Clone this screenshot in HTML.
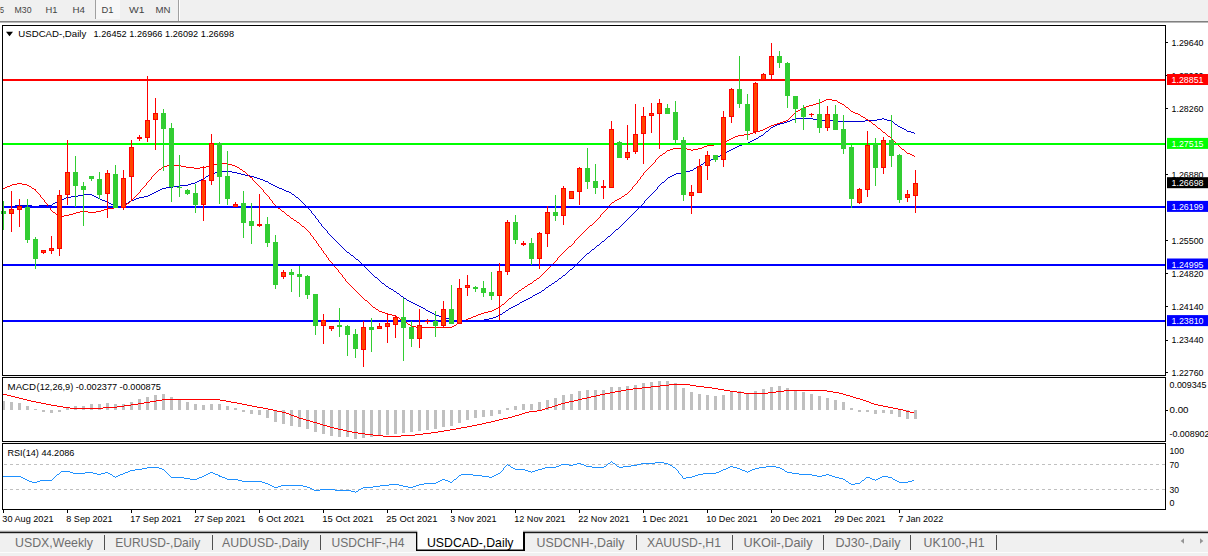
<!DOCTYPE html><html><head><meta charset="utf-8"><title>USDCAD-,Daily</title><style>html,body{margin:0;padding:0;background:#fff;overflow:hidden}svg{display:block}text{font-family:"Liberation Sans",sans-serif}</style></head><body>
<svg width="1208" height="556" viewBox="0 0 1208 556">
<rect width="1208" height="556" fill="#fff"/>
<g id="toolbar">
<rect x="0" y="0" width="1208" height="21" fill="#f0f0f0"/>
<rect x="0" y="21" width="1208" height="1" fill="#808080"/>
<rect x="0" y="22" width="1208" height="1" fill="#b8b8b8"/>
<rect x="96" y="0" width="24" height="19" fill="#f7f7f7"/>
<rect x="95" y="0" width="1" height="19" fill="#a0a0a0"/>
<rect x="178" y="0" width="1" height="21" fill="#a0a0a0"/><rect x="179" y="0" width="1" height="21" fill="#ffffff"/>
<text x="0" y="12.9" font-size="9.5" fill="#444" textLength="4" lengthAdjust="spacingAndGlyphs">5</text>
<text x="14.5" y="12.9" font-size="9.5" fill="#444" textLength="17" lengthAdjust="spacingAndGlyphs">M30</text>
<text x="45.5" y="12.9" font-size="9.5" fill="#444" textLength="12" lengthAdjust="spacingAndGlyphs">H1</text>
<text x="72.5" y="12.9" font-size="9.5" fill="#444" textLength="12.5" lengthAdjust="spacingAndGlyphs">H4</text>
<text x="101.5" y="12.9" font-size="9.5" fill="#444" textLength="12" lengthAdjust="spacingAndGlyphs">D1</text>
<text x="129" y="12.9" font-size="9.5" fill="#444" textLength="15.5" lengthAdjust="spacingAndGlyphs">W1</text>
<text x="155.5" y="12.9" font-size="9.5" fill="#444" textLength="15" lengthAdjust="spacingAndGlyphs">MN</text>
</g>
<path fill="none" stroke="#0000d0" stroke-width="1" shape-rendering="crispEdges" d="M795 118.5h18M882 118.5h2M792 119.5h3M813 119.5h6M877 119.5h5M884 119.5h3M790 120.5h2M819 120.5h17M865 120.5h12M887 120.5h4M787 121.5h3M836 121.5h29M891 121.5h2M784 122.5h3M893 122.5h1M780 123.5h4M894 123.5h1M777 124.5h3M895 124.5h2M775 125.5h2M897 125.5h1M773 126.5h2M898 126.5h2M771 127.5h2M900 127.5h2M770 128.5h1M902 128.5h2M769 129.5h1M904 129.5h2M768 130.5h1M906 130.5h1M766 131.5h2M907 131.5h4M765 132.5h1M911 132.5h3M764 133.5h1M914 133.5h1M763 134.5h1M761 135.5h2M759 136.5h2M758 137.5h1M756 138.5h2M754 139.5h2M752 140.5h2M750 141.5h2M748 142.5h2M745 143.5h3M742 144.5h3M739 145.5h3M737 146.5h2M735 147.5h2M733 148.5h2M731 149.5h2M729 150.5h2M727 151.5h2M725 152.5h2M723 153.5h2M722 154.5h1M720 155.5h2M718 156.5h2M716 157.5h2M714 158.5h2M711 159.5h3M708 160.5h3M706 161.5h2M704 162.5h2M703 163.5h1M701 164.5h2M700 165.5h1M698 166.5h2M696 167.5h2M694 168.5h2M693 169.5h1M690 170.5h3M218 171.5h14M685 171.5h5M215 172.5h3M232 172.5h5M681 172.5h4M212 173.5h3M237 173.5h4M676 173.5h5M210 174.5h2M241 174.5h4M674 174.5h2M208 175.5h2M245 175.5h5M672 175.5h2M206 176.5h2M250 176.5h4M670 176.5h2M205 177.5h1M254 177.5h3M668 177.5h2M203 178.5h2M257 178.5h3M667 178.5h1M201 179.5h2M260 179.5h3M666 179.5h1M199 180.5h2M263 180.5h2M665 180.5h1M197 181.5h2M265 181.5h3M664 181.5h1M195 182.5h2M268 182.5h1M662 182.5h2M191 183.5h4M269 183.5h2M661 183.5h1M188 184.5h3M271 184.5h2M660 184.5h1M180 185.5h8M273 185.5h2M659 185.5h1M173 186.5h7M275 186.5h2M658 186.5h1M166 187.5h7M277 187.5h2M657 187.5h1M162 188.5h4M279 188.5h3M657 188.5h1M160 189.5h2M282 189.5h2M656 189.5h1M158 190.5h2M284 190.5h2M655 190.5h1M156 191.5h2M286 191.5h3M654 191.5h1M154 192.5h2M289 192.5h2M653 192.5h1M152 193.5h2M291 193.5h1M652 193.5h1M83 194.5h9M150 194.5h2M292 194.5h2M651 194.5h1M78 195.5h5M92 195.5h2M148 195.5h2M294 195.5h1M650 195.5h1M71 196.5h7M94 196.5h2M144 196.5h4M295 196.5h1M649 196.5h1M66 197.5h5M96 197.5h2M139 197.5h5M296 197.5h2M648 197.5h1M64 198.5h2M98 198.5h2M136 198.5h3M298 198.5h1M647 198.5h1M61 199.5h3M100 199.5h2M134 199.5h2M299 199.5h1M646 199.5h1M59 200.5h2M102 200.5h3M131 200.5h3M300 200.5h1M645 200.5h1M57 201.5h2M105 201.5h2M129 201.5h2M301 201.5h1M644 201.5h1M55 202.5h2M107 202.5h2M128 202.5h1M302 202.5h1M644 202.5h1M53 203.5h2M109 203.5h2M126 203.5h2M303 203.5h1M643 203.5h1M52 204.5h1M111 204.5h2M125 204.5h1M304 204.5h1M642 204.5h1M15 205.5h17M39 205.5h13M113 205.5h2M121 205.5h4M305 205.5h1M641 205.5h1M3 206.5h12M32 206.5h7M115 206.5h6M306 206.5h1M640 206.5h1M307 207.5h1M639 207.5h1M308 208.5h1M638 208.5h1M309 209.5h1M637 209.5h1M310 210.5h1M636 210.5h1M311 211.5h1M635 211.5h1M311 212.5h1M634 212.5h1M312 213.5h1M633 213.5h1M313 214.5h1M632 214.5h1M314 215.5h1M631 215.5h1M315 216.5h1M630 216.5h1M315 217.5h1M629 217.5h1M316 218.5h1M628 218.5h1M317 219.5h1M627 219.5h1M318 220.5h1M626 220.5h1M318 221.5h1M625 221.5h1M319 222.5h1M624 222.5h1M320 223.5h1M623 223.5h1M321 224.5h1M622 224.5h1M321 225.5h1M621 225.5h1M322 226.5h1M620 226.5h1M323 227.5h1M619 227.5h1M324 228.5h1M618 228.5h1M325 229.5h1M616 229.5h2M326 230.5h1M615 230.5h1M327 231.5h1M614 231.5h1M327 232.5h1M613 232.5h1M328 233.5h1M612 233.5h1M329 234.5h1M611 234.5h1M330 235.5h1M610 235.5h1M331 236.5h1M608 236.5h2M332 237.5h1M607 237.5h1M333 238.5h1M606 238.5h1M334 239.5h1M605 239.5h1M335 240.5h1M604 240.5h1M336 241.5h1M602 241.5h2M337 242.5h1M601 242.5h1M338 243.5h1M600 243.5h1M339 244.5h1M599 244.5h1M340 245.5h1M597 245.5h2M341 246.5h1M596 246.5h1M342 247.5h1M595 247.5h1M343 248.5h1M594 248.5h1M344 249.5h1M592 249.5h2M345 250.5h1M591 250.5h1M346 251.5h1M590 251.5h1M347 252.5h2M589 252.5h1M349 253.5h1M587 253.5h2M350 254.5h1M586 254.5h1M351 255.5h2M585 255.5h1M353 256.5h1M584 256.5h1M354 257.5h1M583 257.5h1M355 258.5h1M582 258.5h1M356 259.5h2M581 259.5h1M358 260.5h1M580 260.5h1M359 261.5h1M579 261.5h1M360 262.5h1M578 262.5h1M361 263.5h1M577 263.5h1M362 264.5h1M576 264.5h1M363 265.5h1M575 265.5h1M364 266.5h1M574 266.5h1M365 267.5h1M573 267.5h1M366 268.5h1M572 268.5h1M367 269.5h1M570 269.5h2M368 270.5h1M569 270.5h1M369 271.5h1M568 271.5h1M370 272.5h1M567 272.5h1M371 273.5h1M566 273.5h1M372 274.5h1M565 274.5h1M373 275.5h1M563 275.5h2M374 276.5h1M562 276.5h1M375 277.5h2M561 277.5h1M377 278.5h1M559 278.5h2M378 279.5h1M558 279.5h1M379 280.5h1M557 280.5h1M380 281.5h1M555 281.5h2M381 282.5h1M554 282.5h1M382 283.5h2M552 283.5h2M384 284.5h1M551 284.5h1M385 285.5h1M549 285.5h2M386 286.5h2M548 286.5h1M388 287.5h1M546 287.5h2M389 288.5h2M545 288.5h1M391 289.5h2M544 289.5h1M393 290.5h1M542 290.5h2M394 291.5h2M541 291.5h1M396 292.5h1M539 292.5h2M397 293.5h2M537 293.5h2M399 294.5h1M535 294.5h2M400 295.5h1M533 295.5h2M401 296.5h2M532 296.5h1M403 297.5h1M530 297.5h2M404 298.5h2M528 298.5h2M406 299.5h1M526 299.5h2M407 300.5h2M524 300.5h2M409 301.5h2M522 301.5h2M411 302.5h2M520 302.5h2M413 303.5h2M519 303.5h1M415 304.5h2M517 304.5h2M417 305.5h2M515 305.5h2M419 306.5h2M513 306.5h2M421 307.5h2M511 307.5h2M423 308.5h2M509 308.5h2M425 309.5h1M508 309.5h1M426 310.5h2M506 310.5h2M428 311.5h2M505 311.5h1M430 312.5h2M503 312.5h2M432 313.5h2M502 313.5h1M434 314.5h2M500 314.5h2M436 315.5h3M498 315.5h2M439 316.5h3M496 316.5h2M442 317.5h3M493 317.5h3M445 318.5h4M489 318.5h4M449 319.5h5M484 319.5h5M454 320.5h30"/>
<path fill="none" stroke="#ff0000" stroke-width="1" shape-rendering="crispEdges" d="M826 99.5h6M824 100.5h2M832 100.5h5M822 101.5h2M837 101.5h1M820 102.5h2M838 102.5h2M816 103.5h4M840 103.5h2M813 104.5h3M842 104.5h2M809 105.5h4M844 105.5h1M806 106.5h3M845 106.5h1M803 107.5h3M846 107.5h2M801 108.5h2M848 108.5h1M800 109.5h1M849 109.5h1M798 110.5h2M850 110.5h1M796 111.5h2M851 111.5h2M795 112.5h1M853 112.5h2M794 113.5h1M855 113.5h3M793 114.5h1M858 114.5h2M792 115.5h1M860 115.5h1M791 116.5h1M861 116.5h2M790 117.5h1M863 117.5h2M789 118.5h1M865 118.5h1M788 119.5h1M866 119.5h2M786 120.5h2M868 120.5h1M783 121.5h3M869 121.5h2M780 122.5h3M871 122.5h1M777 123.5h3M872 123.5h1M774 124.5h3M873 124.5h2M771 125.5h3M875 125.5h1M769 126.5h2M876 126.5h1M767 127.5h2M877 127.5h1M765 128.5h2M878 128.5h2M763 129.5h2M880 129.5h1M760 130.5h3M881 130.5h1M756 131.5h4M882 131.5h1M753 132.5h3M883 132.5h2M750 133.5h3M885 133.5h1M744 134.5h6M886 134.5h1M738 135.5h6M887 135.5h1M735 136.5h3M888 136.5h2M733 137.5h2M890 137.5h1M731 138.5h2M891 138.5h1M729 139.5h2M892 139.5h1M727 140.5h2M893 140.5h1M726 141.5h1M894 141.5h1M724 142.5h2M895 142.5h1M719 143.5h5M896 143.5h1M714 144.5h5M897 144.5h1M707 145.5h7M898 145.5h1M704 146.5h3M899 146.5h1M702 147.5h2M900 147.5h1M673 148.5h14M698 148.5h4M901 148.5h1M670 149.5h3M687 149.5h4M693 149.5h5M902 149.5h2M667 150.5h3M691 150.5h2M904 150.5h1M666 151.5h1M905 151.5h1M665 152.5h1M906 152.5h1M663 153.5h2M907 153.5h3M662 154.5h1M910 154.5h2M660 155.5h2M912 155.5h2M659 156.5h1M914 156.5h1M658 157.5h1M657 158.5h1M656 159.5h1M655 160.5h1M655 161.5h1M654 162.5h1M219 163.5h9M653 163.5h1M213 164.5h6M228 164.5h4M652 164.5h1M167 165.5h14M209 165.5h4M232 165.5h3M651 165.5h1M163 166.5h4M181 166.5h5M206 166.5h3M235 166.5h2M650 166.5h1M162 167.5h1M186 167.5h8M200 167.5h6M237 167.5h2M649 167.5h1M161 168.5h1M194 168.5h6M239 168.5h1M648 168.5h1M159 169.5h2M240 169.5h2M647 169.5h1M158 170.5h1M242 170.5h1M646 170.5h1M157 171.5h1M243 171.5h2M645 171.5h1M156 172.5h1M245 172.5h1M644 172.5h1M155 173.5h1M246 173.5h1M643 173.5h1M154 174.5h1M247 174.5h1M643 174.5h1M153 175.5h1M248 175.5h1M642 175.5h1M152 176.5h1M249 176.5h1M641 176.5h1M151 177.5h1M250 177.5h2M640 177.5h1M151 178.5h1M252 178.5h1M640 178.5h1M150 179.5h1M252 179.5h1M639 179.5h1M149 180.5h1M253 180.5h1M638 180.5h1M148 181.5h1M254 181.5h1M637 181.5h1M147 182.5h1M255 182.5h1M637 182.5h1M17 183.5h5M146 183.5h1M256 183.5h1M636 183.5h1M12 184.5h5M22 184.5h5M146 184.5h1M257 184.5h1M635 184.5h1M10 185.5h2M27 185.5h2M145 185.5h1M258 185.5h1M634 185.5h1M7 186.5h3M29 186.5h2M144 186.5h1M259 186.5h1M633 186.5h1M5 187.5h2M31 187.5h1M143 187.5h1M260 187.5h1M632 187.5h1M3 188.5h2M32 188.5h2M142 188.5h1M261 188.5h1M632 188.5h1M34 189.5h2M141 189.5h1M262 189.5h1M631 189.5h1M35 190.5h1M140 190.5h1M263 190.5h1M630 190.5h1M36 191.5h1M140 191.5h1M263 191.5h1M629 191.5h1M37 192.5h1M139 192.5h1M264 192.5h1M628 192.5h1M38 193.5h1M138 193.5h1M265 193.5h1M627 193.5h1M39 194.5h1M137 194.5h1M266 194.5h1M625 194.5h2M40 195.5h1M136 195.5h1M267 195.5h1M624 195.5h1M40 196.5h1M135 196.5h1M268 196.5h1M622 196.5h2M41 197.5h1M134 197.5h1M269 197.5h1M621 197.5h1M42 198.5h1M133 198.5h1M269 198.5h1M619 198.5h2M43 199.5h1M132 199.5h1M270 199.5h1M617 199.5h2M44 200.5h1M131 200.5h1M271 200.5h1M615 200.5h2M44 201.5h1M130 201.5h1M272 201.5h1M614 201.5h1M45 202.5h1M129 202.5h1M272 202.5h1M612 202.5h2M46 203.5h1M127 203.5h2M273 203.5h1M611 203.5h1M47 204.5h1M126 204.5h1M274 204.5h1M610 204.5h1M47 205.5h1M125 205.5h1M275 205.5h1M609 205.5h1M48 206.5h1M124 206.5h1M275 206.5h2M608 206.5h1M49 207.5h1M114 207.5h10M277 207.5h1M607 207.5h1M50 208.5h1M107 208.5h7M278 208.5h2M607 208.5h1M50 209.5h1M104 209.5h3M280 209.5h1M606 209.5h1M51 210.5h1M101 210.5h3M281 210.5h1M605 210.5h1M52 211.5h1M80 211.5h8M96 211.5h5M282 211.5h2M604 211.5h1M53 212.5h2M76 212.5h4M88 212.5h8M284 212.5h1M603 212.5h1M55 213.5h1M73 213.5h3M285 213.5h1M602 213.5h1M56 214.5h1M69 214.5h4M286 214.5h1M601 214.5h1M57 215.5h1M64 215.5h5M287 215.5h2M600 215.5h1M58 216.5h6M289 216.5h1M600 216.5h1M290 217.5h1M599 217.5h1M291 218.5h2M598 218.5h1M293 219.5h1M597 219.5h1M294 220.5h2M596 220.5h1M296 221.5h1M595 221.5h1M297 222.5h2M594 222.5h1M299 223.5h1M593 223.5h1M300 224.5h1M592 224.5h1M301 225.5h1M590 225.5h2M302 226.5h2M589 226.5h1M304 227.5h1M588 227.5h1M305 228.5h1M587 228.5h1M306 229.5h1M586 229.5h1M307 230.5h1M585 230.5h1M308 231.5h1M584 231.5h1M309 232.5h1M583 232.5h1M310 233.5h1M582 233.5h1M310 234.5h1M581 234.5h1M311 235.5h1M580 235.5h1M312 236.5h1M579 236.5h1M313 237.5h1M578 237.5h1M313 238.5h1M577 238.5h1M314 239.5h1M576 239.5h1M315 240.5h1M575 240.5h1M316 241.5h1M574 241.5h1M316 242.5h1M574 242.5h1M317 243.5h1M573 243.5h1M318 244.5h1M572 244.5h1M318 245.5h1M571 245.5h1M319 246.5h1M569 246.5h2M320 247.5h1M568 247.5h1M321 248.5h1M567 248.5h1M321 249.5h1M566 249.5h1M322 250.5h1M565 250.5h1M323 251.5h1M564 251.5h1M323 252.5h1M563 252.5h1M324 253.5h1M562 253.5h1M325 254.5h1M561 254.5h1M326 255.5h1M560 255.5h1M326 256.5h1M559 256.5h1M327 257.5h1M558 257.5h1M328 258.5h1M557 258.5h1M328 259.5h1M557 259.5h1M329 260.5h1M556 260.5h1M330 261.5h1M555 261.5h1M331 262.5h1M554 262.5h1M332 263.5h1M553 263.5h1M332 264.5h1M552 264.5h1M333 265.5h1M551 265.5h1M334 266.5h1M550 266.5h1M335 267.5h1M549 267.5h1M336 268.5h1M548 268.5h1M337 269.5h1M547 269.5h1M338 270.5h1M546 270.5h1M338 271.5h1M545 271.5h1M339 272.5h1M544 272.5h1M340 273.5h1M543 273.5h1M341 274.5h1M542 274.5h1M342 275.5h1M541 275.5h1M342 276.5h1M540 276.5h1M343 277.5h1M539 277.5h1M344 278.5h1M537 278.5h2M345 279.5h1M536 279.5h1M345 280.5h1M534 280.5h2M346 281.5h1M533 281.5h1M347 282.5h1M532 282.5h1M348 283.5h1M530 283.5h2M349 284.5h1M528 284.5h2M350 285.5h1M527 285.5h1M351 286.5h1M525 286.5h2M352 287.5h1M524 287.5h1M353 288.5h1M522 288.5h2M354 289.5h1M521 289.5h1M355 290.5h1M519 290.5h2M356 291.5h1M518 291.5h1M357 292.5h1M517 292.5h1M358 293.5h1M515 293.5h2M359 294.5h1M514 294.5h1M360 295.5h1M513 295.5h1M361 296.5h1M512 296.5h1M362 297.5h1M511 297.5h1M363 298.5h1M509 298.5h2M364 299.5h1M508 299.5h1M365 300.5h2M507 300.5h1M367 301.5h1M506 301.5h1M368 302.5h1M505 302.5h1M369 303.5h1M504 303.5h1M370 304.5h1M502 304.5h2M371 305.5h1M501 305.5h1M372 306.5h1M500 306.5h1M373 307.5h2M498 307.5h2M375 308.5h1M496 308.5h2M376 309.5h2M494 309.5h2M378 310.5h1M492 310.5h2M379 311.5h3M488 311.5h4M382 312.5h3M484 312.5h4M385 313.5h3M481 313.5h3M388 314.5h4M478 314.5h3M392 315.5h3M476 315.5h2M395 316.5h2M473 316.5h3M397 317.5h2M471 317.5h2M399 318.5h1M468 318.5h3M400 319.5h2M466 319.5h2M402 320.5h2M464 320.5h2M404 321.5h1M462 321.5h2M405 322.5h2M459 322.5h3M407 323.5h1M457 323.5h2M408 324.5h2M456 324.5h1M410 325.5h1M454 325.5h2M411 326.5h5M452 326.5h2M416 327.5h36"/>
<g id="hlines" shape-rendering="crispEdges">
<rect x="3" y="79" width="1162" height="2" fill="#ff0000"/>
<rect x="3" y="143" width="1162" height="2" fill="#00ff00"/>
<rect x="3" y="206" width="1162" height="2" fill="#0000ff"/>
<rect x="3" y="264" width="1162" height="2" fill="#0000ff"/>
<rect x="3" y="320" width="1162" height="2" fill="#0000ff"/>
</g>
<g id="candles" shape-rendering="crispEdges">
<rect x="3" y="201" width="1" height="29" fill="#32cd32"/>
<rect x="1" y="211" width="5" height="3" fill="#32cd32"/>
<rect x="2" y="212" width="3" height="1" fill="#32cd32"/>
<rect x="11" y="191" width="1" height="41" fill="#ff0000"/>
<rect x="9" y="209" width="5" height="5" fill="#ff0000"/>
<rect x="10" y="210" width="3" height="3" fill="#ff4500"/>
<rect x="19" y="199" width="1" height="28" fill="#ff0000"/>
<rect x="17" y="206" width="5" height="4" fill="#ff0000"/>
<rect x="18" y="207" width="3" height="2" fill="#ff4500"/>
<rect x="27" y="199" width="1" height="44" fill="#32cd32"/>
<rect x="25" y="207" width="5" height="33" fill="#32cd32"/>
<rect x="26" y="208" width="3" height="31" fill="#32cd32"/>
<rect x="35" y="237" width="1" height="32" fill="#32cd32"/>
<rect x="33" y="239" width="5" height="20" fill="#32cd32"/>
<rect x="34" y="240" width="3" height="18" fill="#32cd32"/>
<rect x="43" y="250" width="1" height="4" fill="#ff0000"/>
<rect x="41" y="250" width="5" height="3" fill="#ff0000"/>
<rect x="42" y="251" width="3" height="1" fill="#ff4500"/>
<rect x="51" y="236" width="1" height="18" fill="#ff0000"/>
<rect x="49" y="248" width="5" height="3" fill="#ff0000"/>
<rect x="50" y="249" width="3" height="1" fill="#ff4500"/>
<rect x="59" y="190" width="1" height="66" fill="#ff0000"/>
<rect x="57" y="195" width="5" height="54" fill="#ff0000"/>
<rect x="58" y="196" width="3" height="52" fill="#ff4500"/>
<rect x="67" y="140" width="1" height="65" fill="#ff0000"/>
<rect x="65" y="172" width="5" height="23" fill="#ff0000"/>
<rect x="66" y="173" width="3" height="21" fill="#ff4500"/>
<rect x="75" y="156" width="1" height="51" fill="#32cd32"/>
<rect x="73" y="172" width="5" height="14" fill="#32cd32"/>
<rect x="74" y="173" width="3" height="12" fill="#32cd32"/>
<rect x="83" y="182" width="1" height="44" fill="#32cd32"/>
<rect x="81" y="186" width="5" height="4" fill="#32cd32"/>
<rect x="82" y="187" width="3" height="2" fill="#32cd32"/>
<rect x="91" y="176" width="1" height="5" fill="#32cd32"/>
<rect x="89" y="176" width="5" height="3" fill="#32cd32"/>
<rect x="90" y="177" width="3" height="1" fill="#32cd32"/>
<rect x="99" y="172" width="1" height="27" fill="#32cd32"/>
<rect x="97" y="179" width="5" height="16" fill="#32cd32"/>
<rect x="98" y="180" width="3" height="14" fill="#32cd32"/>
<rect x="107" y="170" width="1" height="48" fill="#ff0000"/>
<rect x="105" y="173" width="5" height="21" fill="#ff0000"/>
<rect x="106" y="174" width="3" height="19" fill="#ff4500"/>
<rect x="115" y="165" width="1" height="43" fill="#32cd32"/>
<rect x="113" y="174" width="5" height="34" fill="#32cd32"/>
<rect x="114" y="175" width="3" height="32" fill="#32cd32"/>
<rect x="123" y="170" width="1" height="40" fill="#ff0000"/>
<rect x="121" y="178" width="5" height="30" fill="#ff0000"/>
<rect x="122" y="179" width="3" height="28" fill="#ff4500"/>
<rect x="131" y="140" width="1" height="61" fill="#ff0000"/>
<rect x="129" y="147" width="5" height="30" fill="#ff0000"/>
<rect x="130" y="148" width="3" height="28" fill="#ff4500"/>
<rect x="139" y="135" width="1" height="6" fill="#ff0000"/>
<rect x="137" y="137" width="5" height="2" fill="#ff0000"/>
<rect x="147" y="76" width="1" height="66" fill="#ff0000"/>
<rect x="145" y="120" width="5" height="18" fill="#ff0000"/>
<rect x="146" y="121" width="3" height="16" fill="#ff4500"/>
<rect x="155" y="98" width="1" height="52" fill="#ff0000"/>
<rect x="153" y="113" width="5" height="7" fill="#ff0000"/>
<rect x="154" y="114" width="3" height="5" fill="#ff4500"/>
<rect x="163" y="109" width="1" height="62" fill="#32cd32"/>
<rect x="161" y="113" width="5" height="16" fill="#32cd32"/>
<rect x="162" y="114" width="3" height="14" fill="#32cd32"/>
<rect x="171" y="123" width="1" height="79" fill="#32cd32"/>
<rect x="169" y="128" width="5" height="59" fill="#32cd32"/>
<rect x="170" y="129" width="3" height="57" fill="#32cd32"/>
<rect x="179" y="155" width="1" height="42" fill="#32cd32"/>
<rect x="177" y="187" width="5" height="1" fill="#32cd32"/>
<rect x="187" y="189" width="1" height="6" fill="#32cd32"/>
<rect x="185" y="190" width="5" height="4" fill="#32cd32"/>
<rect x="186" y="191" width="3" height="2" fill="#32cd32"/>
<rect x="195" y="184" width="1" height="29" fill="#32cd32"/>
<rect x="193" y="193" width="5" height="12" fill="#32cd32"/>
<rect x="194" y="194" width="3" height="10" fill="#32cd32"/>
<rect x="203" y="166" width="1" height="55" fill="#ff0000"/>
<rect x="201" y="180" width="5" height="25" fill="#ff0000"/>
<rect x="202" y="181" width="3" height="23" fill="#ff4500"/>
<rect x="211" y="134" width="1" height="51" fill="#ff0000"/>
<rect x="209" y="143" width="5" height="38" fill="#ff0000"/>
<rect x="210" y="144" width="3" height="36" fill="#ff4500"/>
<rect x="219" y="142" width="1" height="62" fill="#32cd32"/>
<rect x="217" y="143" width="5" height="34" fill="#32cd32"/>
<rect x="218" y="144" width="3" height="32" fill="#32cd32"/>
<rect x="227" y="151" width="1" height="54" fill="#32cd32"/>
<rect x="225" y="176" width="5" height="23" fill="#32cd32"/>
<rect x="226" y="177" width="3" height="21" fill="#32cd32"/>
<rect x="235" y="202" width="1" height="5" fill="#ff0000"/>
<rect x="233" y="204" width="5" height="3" fill="#ff0000"/>
<rect x="234" y="205" width="3" height="1" fill="#ff4500"/>
<rect x="243" y="191" width="1" height="47" fill="#32cd32"/>
<rect x="241" y="203" width="5" height="20" fill="#32cd32"/>
<rect x="242" y="204" width="3" height="18" fill="#32cd32"/>
<rect x="251" y="203" width="1" height="41" fill="#32cd32"/>
<rect x="249" y="221" width="5" height="5" fill="#32cd32"/>
<rect x="250" y="222" width="3" height="3" fill="#32cd32"/>
<rect x="259" y="194" width="1" height="33" fill="#ff0000"/>
<rect x="257" y="224" width="5" height="2" fill="#ff0000"/>
<rect x="267" y="217" width="1" height="30" fill="#32cd32"/>
<rect x="265" y="224" width="5" height="19" fill="#32cd32"/>
<rect x="266" y="225" width="3" height="17" fill="#32cd32"/>
<rect x="275" y="235" width="1" height="54" fill="#32cd32"/>
<rect x="273" y="242" width="5" height="43" fill="#32cd32"/>
<rect x="274" y="243" width="3" height="41" fill="#32cd32"/>
<rect x="283" y="270" width="1" height="9" fill="#ff0000"/>
<rect x="281" y="272" width="5" height="5" fill="#ff0000"/>
<rect x="282" y="273" width="3" height="3" fill="#ff4500"/>
<rect x="291" y="269" width="1" height="23" fill="#32cd32"/>
<rect x="289" y="272" width="5" height="3" fill="#32cd32"/>
<rect x="290" y="273" width="3" height="1" fill="#32cd32"/>
<rect x="299" y="266" width="1" height="31" fill="#32cd32"/>
<rect x="297" y="274" width="5" height="3" fill="#32cd32"/>
<rect x="298" y="275" width="3" height="1" fill="#32cd32"/>
<rect x="307" y="275" width="1" height="24" fill="#32cd32"/>
<rect x="305" y="276" width="5" height="19" fill="#32cd32"/>
<rect x="306" y="277" width="3" height="17" fill="#32cd32"/>
<rect x="315" y="294" width="1" height="41" fill="#32cd32"/>
<rect x="313" y="294" width="5" height="32" fill="#32cd32"/>
<rect x="314" y="295" width="3" height="30" fill="#32cd32"/>
<rect x="323" y="314" width="1" height="30" fill="#ff0000"/>
<rect x="321" y="320" width="5" height="6" fill="#ff0000"/>
<rect x="322" y="321" width="3" height="4" fill="#ff4500"/>
<rect x="331" y="326" width="1" height="5" fill="#ff0000"/>
<rect x="329" y="326" width="5" height="3" fill="#ff0000"/>
<rect x="330" y="327" width="3" height="1" fill="#ff4500"/>
<rect x="339" y="308" width="1" height="29" fill="#32cd32"/>
<rect x="337" y="325" width="5" height="2" fill="#32cd32"/>
<rect x="347" y="325" width="1" height="31" fill="#32cd32"/>
<rect x="345" y="326" width="5" height="9" fill="#32cd32"/>
<rect x="346" y="327" width="3" height="7" fill="#32cd32"/>
<rect x="355" y="329" width="1" height="29" fill="#32cd32"/>
<rect x="353" y="334" width="5" height="15" fill="#32cd32"/>
<rect x="354" y="335" width="3" height="13" fill="#32cd32"/>
<rect x="363" y="321" width="1" height="46" fill="#ff0000"/>
<rect x="361" y="327" width="5" height="23" fill="#ff0000"/>
<rect x="362" y="328" width="3" height="21" fill="#ff4500"/>
<rect x="371" y="318" width="1" height="34" fill="#32cd32"/>
<rect x="369" y="327" width="5" height="3" fill="#32cd32"/>
<rect x="370" y="328" width="3" height="1" fill="#32cd32"/>
<rect x="379" y="323" width="1" height="6" fill="#ff0000"/>
<rect x="377" y="326" width="5" height="3" fill="#ff0000"/>
<rect x="378" y="327" width="3" height="1" fill="#ff4500"/>
<rect x="387" y="313" width="1" height="30" fill="#ff0000"/>
<rect x="385" y="323" width="5" height="4" fill="#ff0000"/>
<rect x="386" y="324" width="3" height="2" fill="#ff4500"/>
<rect x="395" y="315" width="1" height="23" fill="#ff0000"/>
<rect x="393" y="317" width="5" height="8" fill="#ff0000"/>
<rect x="394" y="318" width="3" height="6" fill="#ff4500"/>
<rect x="403" y="298" width="1" height="63" fill="#32cd32"/>
<rect x="401" y="317" width="5" height="11" fill="#32cd32"/>
<rect x="402" y="318" width="3" height="9" fill="#32cd32"/>
<rect x="411" y="321" width="1" height="26" fill="#32cd32"/>
<rect x="409" y="327" width="5" height="12" fill="#32cd32"/>
<rect x="410" y="328" width="3" height="10" fill="#32cd32"/>
<rect x="419" y="309" width="1" height="39" fill="#ff0000"/>
<rect x="417" y="325" width="5" height="14" fill="#ff0000"/>
<rect x="418" y="326" width="3" height="12" fill="#ff4500"/>
<rect x="427" y="319" width="1" height="5" fill="#ff0000"/>
<rect x="425" y="321" width="5" height="1" fill="#ff0000"/>
<rect x="435" y="311" width="1" height="26" fill="#32cd32"/>
<rect x="433" y="321" width="5" height="5" fill="#32cd32"/>
<rect x="434" y="322" width="3" height="3" fill="#32cd32"/>
<rect x="443" y="301" width="1" height="26" fill="#ff0000"/>
<rect x="441" y="309" width="5" height="17" fill="#ff0000"/>
<rect x="442" y="310" width="3" height="15" fill="#ff4500"/>
<rect x="451" y="285" width="1" height="39" fill="#32cd32"/>
<rect x="449" y="309" width="5" height="15" fill="#32cd32"/>
<rect x="450" y="310" width="3" height="13" fill="#32cd32"/>
<rect x="459" y="279" width="1" height="45" fill="#ff0000"/>
<rect x="457" y="288" width="5" height="36" fill="#ff0000"/>
<rect x="458" y="289" width="3" height="34" fill="#ff4500"/>
<rect x="467" y="275" width="1" height="21" fill="#ff0000"/>
<rect x="465" y="285" width="5" height="3" fill="#ff0000"/>
<rect x="466" y="286" width="3" height="1" fill="#ff4500"/>
<rect x="475" y="286" width="1" height="6" fill="#32cd32"/>
<rect x="473" y="287" width="5" height="2" fill="#32cd32"/>
<rect x="483" y="281" width="1" height="16" fill="#32cd32"/>
<rect x="481" y="288" width="5" height="5" fill="#32cd32"/>
<rect x="482" y="289" width="3" height="3" fill="#32cd32"/>
<rect x="491" y="272" width="1" height="28" fill="#32cd32"/>
<rect x="489" y="292" width="5" height="4" fill="#32cd32"/>
<rect x="490" y="293" width="3" height="2" fill="#32cd32"/>
<rect x="499" y="263" width="1" height="57" fill="#ff0000"/>
<rect x="497" y="271" width="5" height="25" fill="#ff0000"/>
<rect x="498" y="272" width="3" height="23" fill="#ff4500"/>
<rect x="507" y="220" width="1" height="55" fill="#ff0000"/>
<rect x="505" y="222" width="5" height="50" fill="#ff0000"/>
<rect x="506" y="223" width="3" height="48" fill="#ff4500"/>
<rect x="515" y="215" width="1" height="29" fill="#32cd32"/>
<rect x="513" y="222" width="5" height="18" fill="#32cd32"/>
<rect x="514" y="223" width="3" height="16" fill="#32cd32"/>
<rect x="523" y="241" width="1" height="5" fill="#ff0000"/>
<rect x="521" y="243" width="5" height="2" fill="#ff0000"/>
<rect x="531" y="238" width="1" height="27" fill="#32cd32"/>
<rect x="529" y="243" width="5" height="16" fill="#32cd32"/>
<rect x="530" y="244" width="3" height="14" fill="#32cd32"/>
<rect x="539" y="232" width="1" height="37" fill="#ff0000"/>
<rect x="537" y="233" width="5" height="26" fill="#ff0000"/>
<rect x="538" y="234" width="3" height="24" fill="#ff4500"/>
<rect x="547" y="206" width="1" height="41" fill="#ff0000"/>
<rect x="545" y="212" width="5" height="22" fill="#ff0000"/>
<rect x="546" y="213" width="3" height="20" fill="#ff4500"/>
<rect x="555" y="195" width="1" height="26" fill="#32cd32"/>
<rect x="553" y="212" width="5" height="4" fill="#32cd32"/>
<rect x="554" y="213" width="3" height="2" fill="#32cd32"/>
<rect x="563" y="186" width="1" height="39" fill="#ff0000"/>
<rect x="561" y="188" width="5" height="28" fill="#ff0000"/>
<rect x="562" y="189" width="3" height="26" fill="#ff4500"/>
<rect x="571" y="191" width="1" height="8" fill="#ff0000"/>
<rect x="569" y="191" width="5" height="8" fill="#ff0000"/>
<rect x="570" y="192" width="3" height="6" fill="#ff4500"/>
<rect x="579" y="167" width="1" height="38" fill="#ff0000"/>
<rect x="577" y="168" width="5" height="24" fill="#ff0000"/>
<rect x="578" y="169" width="3" height="22" fill="#ff4500"/>
<rect x="587" y="148" width="1" height="41" fill="#32cd32"/>
<rect x="585" y="168" width="5" height="14" fill="#32cd32"/>
<rect x="586" y="169" width="3" height="12" fill="#32cd32"/>
<rect x="595" y="164" width="1" height="30" fill="#32cd32"/>
<rect x="593" y="181" width="5" height="7" fill="#32cd32"/>
<rect x="594" y="182" width="3" height="5" fill="#32cd32"/>
<rect x="603" y="180" width="1" height="19" fill="#ff0000"/>
<rect x="601" y="186" width="5" height="2" fill="#ff0000"/>
<rect x="611" y="121" width="1" height="67" fill="#ff0000"/>
<rect x="609" y="129" width="5" height="59" fill="#ff0000"/>
<rect x="610" y="130" width="3" height="57" fill="#ff4500"/>
<rect x="619" y="141" width="1" height="17" fill="#32cd32"/>
<rect x="617" y="142" width="5" height="16" fill="#32cd32"/>
<rect x="618" y="143" width="3" height="14" fill="#32cd32"/>
<rect x="627" y="125" width="1" height="35" fill="#ff0000"/>
<rect x="625" y="152" width="5" height="6" fill="#ff0000"/>
<rect x="626" y="153" width="3" height="4" fill="#ff4500"/>
<rect x="635" y="104" width="1" height="50" fill="#ff0000"/>
<rect x="633" y="134" width="5" height="18" fill="#ff0000"/>
<rect x="634" y="135" width="3" height="16" fill="#ff4500"/>
<rect x="643" y="107" width="1" height="57" fill="#ff0000"/>
<rect x="641" y="116" width="5" height="18" fill="#ff0000"/>
<rect x="642" y="117" width="3" height="16" fill="#ff4500"/>
<rect x="651" y="103" width="1" height="30" fill="#ff0000"/>
<rect x="649" y="113" width="5" height="3" fill="#ff0000"/>
<rect x="650" y="114" width="3" height="1" fill="#ff4500"/>
<rect x="659" y="99" width="1" height="50" fill="#ff0000"/>
<rect x="657" y="103" width="5" height="11" fill="#ff0000"/>
<rect x="658" y="104" width="3" height="9" fill="#ff4500"/>
<rect x="667" y="104" width="1" height="10" fill="#32cd32"/>
<rect x="665" y="108" width="5" height="6" fill="#32cd32"/>
<rect x="666" y="109" width="3" height="4" fill="#32cd32"/>
<rect x="675" y="101" width="1" height="42" fill="#32cd32"/>
<rect x="673" y="112" width="5" height="28" fill="#32cd32"/>
<rect x="674" y="113" width="3" height="26" fill="#32cd32"/>
<rect x="683" y="137" width="1" height="64" fill="#32cd32"/>
<rect x="681" y="140" width="5" height="55" fill="#32cd32"/>
<rect x="682" y="141" width="3" height="53" fill="#32cd32"/>
<rect x="691" y="185" width="1" height="29" fill="#ff0000"/>
<rect x="689" y="192" width="5" height="4" fill="#ff0000"/>
<rect x="690" y="193" width="3" height="2" fill="#ff4500"/>
<rect x="699" y="159" width="1" height="34" fill="#ff0000"/>
<rect x="697" y="166" width="5" height="27" fill="#ff0000"/>
<rect x="698" y="167" width="3" height="25" fill="#ff4500"/>
<rect x="707" y="151" width="1" height="29" fill="#ff0000"/>
<rect x="705" y="155" width="5" height="11" fill="#ff0000"/>
<rect x="706" y="156" width="3" height="9" fill="#ff4500"/>
<rect x="715" y="155" width="1" height="7" fill="#32cd32"/>
<rect x="713" y="155" width="5" height="5" fill="#32cd32"/>
<rect x="714" y="156" width="3" height="3" fill="#32cd32"/>
<rect x="723" y="111" width="1" height="56" fill="#ff0000"/>
<rect x="721" y="117" width="5" height="43" fill="#ff0000"/>
<rect x="722" y="118" width="3" height="41" fill="#ff4500"/>
<rect x="731" y="88" width="1" height="35" fill="#ff0000"/>
<rect x="729" y="89" width="5" height="28" fill="#ff0000"/>
<rect x="730" y="90" width="3" height="26" fill="#ff4500"/>
<rect x="739" y="56" width="1" height="52" fill="#32cd32"/>
<rect x="737" y="89" width="5" height="15" fill="#32cd32"/>
<rect x="738" y="90" width="3" height="13" fill="#32cd32"/>
<rect x="747" y="94" width="1" height="46" fill="#32cd32"/>
<rect x="745" y="104" width="5" height="27" fill="#32cd32"/>
<rect x="746" y="105" width="3" height="25" fill="#32cd32"/>
<rect x="755" y="82" width="1" height="52" fill="#ff0000"/>
<rect x="753" y="83" width="5" height="49" fill="#ff0000"/>
<rect x="754" y="84" width="3" height="47" fill="#ff4500"/>
<rect x="763" y="73" width="1" height="7" fill="#ff0000"/>
<rect x="761" y="74" width="5" height="6" fill="#ff0000"/>
<rect x="762" y="75" width="3" height="4" fill="#ff4500"/>
<rect x="771" y="43" width="1" height="37" fill="#ff0000"/>
<rect x="769" y="56" width="5" height="19" fill="#ff0000"/>
<rect x="770" y="57" width="3" height="17" fill="#ff4500"/>
<rect x="779" y="51" width="1" height="17" fill="#32cd32"/>
<rect x="777" y="56" width="5" height="7" fill="#32cd32"/>
<rect x="778" y="57" width="3" height="5" fill="#32cd32"/>
<rect x="787" y="62" width="1" height="46" fill="#32cd32"/>
<rect x="785" y="63" width="5" height="33" fill="#32cd32"/>
<rect x="786" y="64" width="3" height="31" fill="#32cd32"/>
<rect x="795" y="96" width="1" height="27" fill="#32cd32"/>
<rect x="793" y="96" width="5" height="13" fill="#32cd32"/>
<rect x="794" y="97" width="3" height="11" fill="#32cd32"/>
<rect x="803" y="105" width="1" height="25" fill="#32cd32"/>
<rect x="801" y="108" width="5" height="9" fill="#32cd32"/>
<rect x="802" y="109" width="3" height="7" fill="#32cd32"/>
<rect x="811" y="113" width="1" height="4" fill="#ff0000"/>
<rect x="809" y="114" width="5" height="1" fill="#ff0000"/>
<rect x="819" y="99" width="1" height="34" fill="#32cd32"/>
<rect x="817" y="114" width="5" height="14" fill="#32cd32"/>
<rect x="818" y="115" width="3" height="12" fill="#32cd32"/>
<rect x="827" y="106" width="1" height="25" fill="#ff0000"/>
<rect x="825" y="114" width="5" height="14" fill="#ff0000"/>
<rect x="826" y="115" width="3" height="12" fill="#ff4500"/>
<rect x="835" y="105" width="1" height="25" fill="#32cd32"/>
<rect x="833" y="114" width="5" height="16" fill="#32cd32"/>
<rect x="834" y="115" width="3" height="14" fill="#32cd32"/>
<rect x="843" y="115" width="1" height="39" fill="#32cd32"/>
<rect x="841" y="129" width="5" height="20" fill="#32cd32"/>
<rect x="842" y="130" width="3" height="18" fill="#32cd32"/>
<rect x="851" y="145" width="1" height="63" fill="#32cd32"/>
<rect x="849" y="147" width="5" height="52" fill="#32cd32"/>
<rect x="850" y="148" width="3" height="50" fill="#32cd32"/>
<rect x="859" y="188" width="1" height="16" fill="#ff0000"/>
<rect x="857" y="189" width="5" height="14" fill="#ff0000"/>
<rect x="858" y="190" width="3" height="12" fill="#ff4500"/>
<rect x="867" y="131" width="1" height="66" fill="#ff0000"/>
<rect x="865" y="145" width="5" height="45" fill="#ff0000"/>
<rect x="866" y="146" width="3" height="43" fill="#ff4500"/>
<rect x="875" y="138" width="1" height="48" fill="#32cd32"/>
<rect x="873" y="144" width="5" height="24" fill="#32cd32"/>
<rect x="874" y="145" width="3" height="22" fill="#32cd32"/>
<rect x="883" y="137" width="1" height="37" fill="#ff0000"/>
<rect x="881" y="140" width="5" height="28" fill="#ff0000"/>
<rect x="882" y="141" width="3" height="26" fill="#ff4500"/>
<rect x="891" y="115" width="1" height="52" fill="#32cd32"/>
<rect x="889" y="140" width="5" height="16" fill="#32cd32"/>
<rect x="890" y="141" width="3" height="14" fill="#32cd32"/>
<rect x="899" y="154" width="1" height="49" fill="#32cd32"/>
<rect x="897" y="155" width="5" height="45" fill="#32cd32"/>
<rect x="898" y="156" width="3" height="43" fill="#32cd32"/>
<rect x="907" y="190" width="1" height="12" fill="#ff0000"/>
<rect x="905" y="194" width="5" height="4" fill="#ff0000"/>
<rect x="906" y="195" width="3" height="2" fill="#ff4500"/>
<rect x="915" y="170" width="1" height="43" fill="#ff0000"/>
<rect x="913" y="183" width="5" height="13" fill="#ff0000"/>
<rect x="914" y="184" width="3" height="11" fill="#ff4500"/>
</g>
<g id="macd" shape-rendering="crispEdges">
<rect x="2" y="401" width="3" height="9" fill="#c0c0c0"/>
<rect x="10" y="402" width="3" height="8" fill="#c0c0c0"/>
<rect x="18" y="403" width="3" height="7" fill="#c0c0c0"/>
<rect x="26" y="406" width="3" height="4" fill="#c0c0c0"/>
<rect x="34" y="409" width="3" height="1" fill="#c0c0c0"/>
<rect x="42" y="410" width="3" height="2" fill="#c0c0c0"/>
<rect x="50" y="410" width="3" height="3" fill="#c0c0c0"/>
<rect x="58" y="410" width="3" height="2" fill="#c0c0c0"/>
<rect x="66" y="407" width="3" height="3" fill="#c0c0c0"/>
<rect x="74" y="406" width="3" height="4" fill="#c0c0c0"/>
<rect x="82" y="406" width="3" height="4" fill="#c0c0c0"/>
<rect x="90" y="404" width="3" height="6" fill="#c0c0c0"/>
<rect x="98" y="404" width="3" height="6" fill="#c0c0c0"/>
<rect x="106" y="403" width="3" height="7" fill="#c0c0c0"/>
<rect x="114" y="404" width="3" height="6" fill="#c0c0c0"/>
<rect x="122" y="404" width="3" height="6" fill="#c0c0c0"/>
<rect x="130" y="402" width="3" height="8" fill="#c0c0c0"/>
<rect x="138" y="399" width="3" height="11" fill="#c0c0c0"/>
<rect x="146" y="397" width="3" height="13" fill="#c0c0c0"/>
<rect x="154" y="395" width="3" height="15" fill="#c0c0c0"/>
<rect x="162" y="394" width="3" height="16" fill="#c0c0c0"/>
<rect x="170" y="397" width="3" height="13" fill="#c0c0c0"/>
<rect x="178" y="400" width="3" height="10" fill="#c0c0c0"/>
<rect x="186" y="402" width="3" height="8" fill="#c0c0c0"/>
<rect x="194" y="404" width="3" height="6" fill="#c0c0c0"/>
<rect x="202" y="405" width="3" height="5" fill="#c0c0c0"/>
<rect x="210" y="404" width="3" height="6" fill="#c0c0c0"/>
<rect x="218" y="404" width="3" height="6" fill="#c0c0c0"/>
<rect x="226" y="406" width="3" height="4" fill="#c0c0c0"/>
<rect x="234" y="408" width="3" height="2" fill="#c0c0c0"/>
<rect x="242" y="410" width="3" height="2" fill="#c0c0c0"/>
<rect x="250" y="410" width="3" height="4" fill="#c0c0c0"/>
<rect x="258" y="410" width="3" height="5" fill="#c0c0c0"/>
<rect x="266" y="410" width="3" height="8" fill="#c0c0c0"/>
<rect x="274" y="410" width="3" height="12" fill="#c0c0c0"/>
<rect x="282" y="410" width="3" height="14" fill="#c0c0c0"/>
<rect x="290" y="410" width="3" height="16" fill="#c0c0c0"/>
<rect x="298" y="410" width="3" height="17" fill="#c0c0c0"/>
<rect x="306" y="410" width="3" height="19" fill="#c0c0c0"/>
<rect x="314" y="410" width="3" height="22" fill="#c0c0c0"/>
<rect x="322" y="410" width="3" height="24" fill="#c0c0c0"/>
<rect x="330" y="410" width="3" height="26" fill="#c0c0c0"/>
<rect x="338" y="410" width="3" height="27" fill="#c0c0c0"/>
<rect x="346" y="410" width="3" height="27" fill="#c0c0c0"/>
<rect x="354" y="410" width="3" height="29" fill="#c0c0c0"/>
<rect x="362" y="410" width="3" height="28" fill="#c0c0c0"/>
<rect x="370" y="410" width="3" height="27" fill="#c0c0c0"/>
<rect x="378" y="410" width="3" height="26" fill="#c0c0c0"/>
<rect x="386" y="410" width="3" height="25" fill="#c0c0c0"/>
<rect x="394" y="410" width="3" height="24" fill="#c0c0c0"/>
<rect x="402" y="410" width="3" height="23" fill="#c0c0c0"/>
<rect x="410" y="410" width="3" height="22" fill="#c0c0c0"/>
<rect x="418" y="410" width="3" height="21" fill="#c0c0c0"/>
<rect x="426" y="410" width="3" height="20" fill="#c0c0c0"/>
<rect x="434" y="410" width="3" height="19" fill="#c0c0c0"/>
<rect x="442" y="410" width="3" height="17" fill="#c0c0c0"/>
<rect x="450" y="410" width="3" height="16" fill="#c0c0c0"/>
<rect x="458" y="410" width="3" height="13" fill="#c0c0c0"/>
<rect x="466" y="410" width="3" height="10" fill="#c0c0c0"/>
<rect x="474" y="410" width="3" height="8" fill="#c0c0c0"/>
<rect x="482" y="410" width="3" height="7" fill="#c0c0c0"/>
<rect x="490" y="410" width="3" height="6" fill="#c0c0c0"/>
<rect x="498" y="410" width="3" height="4" fill="#c0c0c0"/>
<rect x="506" y="408" width="3" height="2" fill="#c0c0c0"/>
<rect x="514" y="406" width="3" height="4" fill="#c0c0c0"/>
<rect x="522" y="404" width="3" height="6" fill="#c0c0c0"/>
<rect x="530" y="404" width="3" height="6" fill="#c0c0c0"/>
<rect x="538" y="402" width="3" height="8" fill="#c0c0c0"/>
<rect x="546" y="400" width="3" height="10" fill="#c0c0c0"/>
<rect x="554" y="398" width="3" height="12" fill="#c0c0c0"/>
<rect x="562" y="395" width="3" height="15" fill="#c0c0c0"/>
<rect x="570" y="394" width="3" height="16" fill="#c0c0c0"/>
<rect x="578" y="391" width="3" height="19" fill="#c0c0c0"/>
<rect x="586" y="390" width="3" height="20" fill="#c0c0c0"/>
<rect x="594" y="390" width="3" height="20" fill="#c0c0c0"/>
<rect x="602" y="390" width="3" height="20" fill="#c0c0c0"/>
<rect x="610" y="387" width="3" height="23" fill="#c0c0c0"/>
<rect x="618" y="387" width="3" height="23" fill="#c0c0c0"/>
<rect x="626" y="386" width="3" height="24" fill="#c0c0c0"/>
<rect x="634" y="385" width="3" height="25" fill="#c0c0c0"/>
<rect x="642" y="383" width="3" height="27" fill="#c0c0c0"/>
<rect x="650" y="382" width="3" height="28" fill="#c0c0c0"/>
<rect x="658" y="381" width="3" height="29" fill="#c0c0c0"/>
<rect x="666" y="381" width="3" height="29" fill="#c0c0c0"/>
<rect x="674" y="383" width="3" height="27" fill="#c0c0c0"/>
<rect x="682" y="388" width="3" height="22" fill="#c0c0c0"/>
<rect x="690" y="392" width="3" height="18" fill="#c0c0c0"/>
<rect x="698" y="394" width="3" height="16" fill="#c0c0c0"/>
<rect x="706" y="395" width="3" height="15" fill="#c0c0c0"/>
<rect x="714" y="396" width="3" height="14" fill="#c0c0c0"/>
<rect x="722" y="395" width="3" height="15" fill="#c0c0c0"/>
<rect x="730" y="392" width="3" height="18" fill="#c0c0c0"/>
<rect x="738" y="391" width="3" height="19" fill="#c0c0c0"/>
<rect x="746" y="393" width="3" height="17" fill="#c0c0c0"/>
<rect x="754" y="391" width="3" height="19" fill="#c0c0c0"/>
<rect x="762" y="389" width="3" height="21" fill="#c0c0c0"/>
<rect x="770" y="387" width="3" height="23" fill="#c0c0c0"/>
<rect x="778" y="386" width="3" height="24" fill="#c0c0c0"/>
<rect x="786" y="388" width="3" height="22" fill="#c0c0c0"/>
<rect x="794" y="391" width="3" height="19" fill="#c0c0c0"/>
<rect x="802" y="392" width="3" height="18" fill="#c0c0c0"/>
<rect x="810" y="394" width="3" height="16" fill="#c0c0c0"/>
<rect x="818" y="396" width="3" height="14" fill="#c0c0c0"/>
<rect x="826" y="398" width="3" height="12" fill="#c0c0c0"/>
<rect x="834" y="400" width="3" height="10" fill="#c0c0c0"/>
<rect x="842" y="402" width="3" height="8" fill="#c0c0c0"/>
<rect x="850" y="408" width="3" height="2" fill="#c0c0c0"/>
<rect x="858" y="410" width="3" height="2" fill="#c0c0c0"/>
<rect x="866" y="410" width="3" height="2" fill="#c0c0c0"/>
<rect x="874" y="410" width="3" height="4" fill="#c0c0c0"/>
<rect x="882" y="410" width="3" height="3" fill="#c0c0c0"/>
<rect x="890" y="410" width="3" height="4" fill="#c0c0c0"/>
<rect x="898" y="410" width="3" height="7" fill="#c0c0c0"/>
<rect x="906" y="410" width="3" height="9" fill="#c0c0c0"/>
<rect x="914" y="410" width="3" height="9" fill="#c0c0c0"/>
</g>
<path fill="none" stroke="#ff0000" stroke-width="1" shape-rendering="crispEdges" d="M669 384.5h21M660 385.5h9M690 385.5h6M651 386.5h9M696 386.5h8M642 387.5h9M704 387.5h8M633 388.5h9M712 388.5h6M626 389.5h7M718 389.5h6M621 390.5h5M724 390.5h6M784 390.5h43M615 391.5h6M730 391.5h7M776 391.5h8M827 391.5h6M610 392.5h5M737 392.5h7M768 392.5h8M833 392.5h6M605 393.5h5M744 393.5h24M839 393.5h4M3 394.5h4M600 394.5h5M843 394.5h3M7 395.5h4M596 395.5h4M846 395.5h4M11 396.5h4M591 396.5h5M850 396.5h3M15 397.5h4M587 397.5h4M853 397.5h3M19 398.5h4M582 398.5h5M856 398.5h4M23 399.5h4M162 399.5h58M578 399.5h4M860 399.5h3M27 400.5h4M156 400.5h6M220 400.5h6M574 400.5h4M863 400.5h3M31 401.5h5M150 401.5h6M226 401.5h5M569 401.5h5M866 401.5h3M36 402.5h5M144 402.5h6M231 402.5h6M565 402.5h4M869 402.5h2M41 403.5h5M138 403.5h6M237 403.5h5M561 403.5h4M871 403.5h3M46 404.5h5M131 404.5h7M242 404.5h5M558 404.5h3M874 404.5h4M51 405.5h6M124 405.5h7M247 405.5h5M555 405.5h3M878 405.5h5M57 406.5h6M117 406.5h7M252 406.5h5M552 406.5h3M883 406.5h5M63 407.5h7M103 407.5h14M257 407.5h6M548 407.5h4M888 407.5h5M70 408.5h33M263 408.5h5M545 408.5h3M893 408.5h5M268 409.5h5M542 409.5h3M898 409.5h5M273 410.5h4M537 410.5h5M903 410.5h3M277 411.5h5M529 411.5h8M906 411.5h4M282 412.5h4M525 412.5h4M910 412.5h4M286 413.5h3M522 413.5h3M289 414.5h2M519 414.5h3M291 415.5h3M515 415.5h4M294 416.5h3M512 416.5h3M297 417.5h2M508 417.5h4M299 418.5h4M503 418.5h5M303 419.5h3M499 419.5h4M306 420.5h4M495 420.5h4M310 421.5h3M491 421.5h4M313 422.5h4M486 422.5h5M317 423.5h3M482 423.5h4M320 424.5h3M477 424.5h5M323 425.5h4M472 425.5h5M327 426.5h3M467 426.5h5M330 427.5h4M461 427.5h6M334 428.5h4M456 428.5h5M338 429.5h5M450 429.5h6M343 430.5h4M444 430.5h6M347 431.5h5M438 431.5h6M352 432.5h6M431 432.5h7M358 433.5h7M423 433.5h8M365 434.5h8M415 434.5h8M373 435.5h10M401 435.5h14M383 436.5h18"/>
<g shape-rendering="crispEdges">
<line x1="4" x2="1165" y1="464.5" y2="464.5" stroke="#c0c0c0" stroke-width="1" stroke-dasharray="3,3"/>
<line x1="4" x2="1165" y1="489.5" y2="489.5" stroke="#c0c0c0" stroke-width="1" stroke-dasharray="3,3"/>
</g>
<path fill="none" stroke="#1e90ff" stroke-width="1" shape-rendering="crispEdges" d="M611 461.5h1M610 462.5h1M612 462.5h1M655 462.5h9M577 463.5h4M608 463.5h2M613 463.5h2M641 463.5h14M664 463.5h4M507 464.5h1M561 464.5h8M573 464.5h4M581 464.5h3M607 464.5h1M615 464.5h1M637 464.5h4M668 464.5h2M506 465.5h1M508 465.5h2M559 465.5h2M569 465.5h4M584 465.5h2M606 465.5h1M616 465.5h1M631 465.5h6M670 465.5h2M505 466.5h1M510 466.5h1M556 466.5h3M586 466.5h6M604 466.5h2M617 466.5h2M623 466.5h8M672 466.5h1M730 466.5h3M766 466.5h10M147 467.5h12M504 467.5h1M511 467.5h2M545 467.5h11M592 467.5h12M619 467.5h4M673 467.5h2M728 467.5h2M733 467.5h4M759 467.5h7M776 467.5h4M142 468.5h5M159 468.5h3M503 468.5h1M513 468.5h2M542 468.5h3M675 468.5h1M726 468.5h2M737 468.5h3M755 468.5h4M780 468.5h2M135 469.5h7M162 469.5h2M503 469.5h1M515 469.5h10M538 469.5h4M676 469.5h1M723 469.5h3M740 469.5h2M752 469.5h3M782 469.5h2M130 470.5h5M164 470.5h1M502 470.5h1M525 470.5h3M535 470.5h3M677 470.5h1M721 470.5h2M742 470.5h3M750 470.5h2M784 470.5h1M61 471.5h9M128 471.5h2M165 471.5h1M501 471.5h1M528 471.5h3M532 471.5h3M678 471.5h1M719 471.5h2M745 471.5h2M748 471.5h2M785 471.5h2M60 472.5h1M70 472.5h3M85 472.5h8M105 472.5h3M125 472.5h3M166 472.5h1M210 472.5h3M500 472.5h1M531 472.5h1M678 472.5h1M716 472.5h3M747 472.5h1M787 472.5h5M59 473.5h1M73 473.5h12M93 473.5h4M101 473.5h4M108 473.5h2M123 473.5h2M167 473.5h1M208 473.5h2M213 473.5h2M498 473.5h2M679 473.5h1M703 473.5h13M792 473.5h7M57 474.5h2M97 474.5h4M110 474.5h2M120 474.5h3M168 474.5h1M206 474.5h2M215 474.5h3M461 474.5h12M496 474.5h2M680 474.5h1M698 474.5h5M799 474.5h13M826 474.5h3M56 475.5h1M112 475.5h1M118 475.5h2M169 475.5h1M204 475.5h2M218 475.5h2M459 475.5h2M473 475.5h9M494 475.5h2M681 475.5h1M695 475.5h3M812 475.5h5M822 475.5h4M829 475.5h3M3 476.5h18M55 476.5h1M113 476.5h2M116 476.5h2M170 476.5h1M202 476.5h2M219 476.5h3M458 476.5h1M482 476.5h7M492 476.5h2M682 476.5h1M692 476.5h3M817 476.5h5M832 476.5h3M882 476.5h6M21 477.5h2M54 477.5h1M115 477.5h1M171 477.5h13M199 477.5h3M222 477.5h3M457 477.5h1M489 477.5h3M682 477.5h1M686 477.5h6M835 477.5h4M866 477.5h4M880 477.5h2M888 477.5h4M23 478.5h2M53 478.5h1M184 478.5h6M197 478.5h2M225 478.5h2M456 478.5h1M683 478.5h3M839 478.5h4M865 478.5h1M870 478.5h2M878 478.5h2M892 478.5h1M25 479.5h2M52 479.5h1M190 479.5h7M227 479.5h11M442 479.5h3M454 479.5h2M843 479.5h2M864 479.5h1M872 479.5h3M876 479.5h2M893 479.5h2M27 480.5h2M40 480.5h12M238 480.5h4M440 480.5h2M445 480.5h3M453 480.5h1M845 480.5h1M862 480.5h2M875 480.5h1M895 480.5h2M912 480.5h2M29 481.5h3M37 481.5h3M242 481.5h20M438 481.5h2M448 481.5h2M452 481.5h1M846 481.5h2M861 481.5h1M897 481.5h2M908 481.5h4M32 482.5h5M262 482.5h3M436 482.5h2M450 482.5h2M848 482.5h1M860 482.5h1M899 482.5h9M265 483.5h3M424 483.5h12M849 483.5h2M855 483.5h5M268 484.5h2M389 484.5h10M419 484.5h5M851 484.5h4M270 485.5h2M281 485.5h22M380 485.5h9M399 485.5h4M416 485.5h3M272 486.5h2M278 486.5h3M303 486.5h4M373 486.5h7M403 486.5h5M413 486.5h3M274 487.5h4M307 487.5h3M363 487.5h10M408 487.5h5M310 488.5h2M361 488.5h2M312 489.5h2M320 489.5h15M359 489.5h2M314 490.5h6M335 490.5h16M358 490.5h1M351 491.5h4M356 491.5h2M355 492.5h1"/>
<g id="frames" shape-rendering="crispEdges" fill="#000">
<rect x="2" y="25" width="1" height="484" fill="#000"/>
<rect x="1165" y="25" width="1" height="484" fill="#000"/>
<rect x="2" y="25" width="1164" height="1"/>
<rect x="2" y="375" width="1164" height="1"/>
<rect x="2" y="377" width="1164" height="1"/>
<rect x="2" y="441" width="1164" height="1"/>
<rect x="2" y="443" width="1164" height="1"/>
<rect x="2" y="509" width="1164" height="1"/>
<rect x="2" y="376" width="1164" height="1" fill="#f0f0f0"/>
<rect x="2" y="442" width="1164" height="1" fill="#f0f0f0"/>
</g>
<g id="axis" shape-rendering="crispEdges">
<rect x="1166" y="42" width="2" height="1" fill="#000"/>
<rect x="1166" y="75" width="2" height="1" fill="#000"/>
<rect x="1166" y="108" width="2" height="1" fill="#000"/>
<rect x="1166" y="174" width="2" height="1" fill="#000"/>
<rect x="1166" y="240" width="2" height="1" fill="#000"/>
<rect x="1166" y="273" width="2" height="1" fill="#000"/>
<rect x="1166" y="306" width="2" height="1" fill="#000"/>
<rect x="1166" y="340" width="2" height="1" fill="#000"/>
<rect x="1166" y="372" width="2" height="1" fill="#000"/>
</g>
<text x="1171.5" y="45.5" font-size="9.8" fill="#000" textLength="32" lengthAdjust="spacingAndGlyphs">1.29640</text>
<text x="1171.5" y="78.5" font-size="9.8" fill="#000" textLength="32" lengthAdjust="spacingAndGlyphs">1.28960</text>
<text x="1171.5" y="111.5" font-size="9.8" fill="#000" textLength="32" lengthAdjust="spacingAndGlyphs">1.28260</text>
<text x="1171.5" y="177.5" font-size="9.8" fill="#000" textLength="32" lengthAdjust="spacingAndGlyphs">1.26880</text>
<text x="1171.5" y="243.5" font-size="9.8" fill="#000" textLength="32" lengthAdjust="spacingAndGlyphs">1.25500</text>
<text x="1171.5" y="276.5" font-size="9.8" fill="#000" textLength="32" lengthAdjust="spacingAndGlyphs">1.24820</text>
<text x="1171.5" y="309.5" font-size="9.8" fill="#000" textLength="32" lengthAdjust="spacingAndGlyphs">1.24140</text>
<text x="1171.5" y="343.0" font-size="9.8" fill="#000" textLength="32" lengthAdjust="spacingAndGlyphs">1.23440</text>
<text x="1171.5" y="376.0" font-size="9.8" fill="#000" textLength="32" lengthAdjust="spacingAndGlyphs">1.22760</text>
<rect x="1167" y="74.0" width="41" height="11" fill="#ff0000"/>
<text x="1171.5" y="83.0" font-size="9.8" fill="#fff" textLength="32" lengthAdjust="spacingAndGlyphs">1.28851</text>
<rect x="1167" y="137.9" width="41" height="11" fill="#00ff00"/>
<text x="1171.5" y="146.9" font-size="9.8" fill="#fff" textLength="32" lengthAdjust="spacingAndGlyphs">1.27515</text>
<rect x="1167" y="177.2" width="41" height="11" fill="#000"/>
<text x="1171.5" y="186.2" font-size="9.8" fill="#fff" textLength="32" lengthAdjust="spacingAndGlyphs">1.26698</text>
<rect x="1167" y="200.9" width="41" height="11" fill="#0000ff"/>
<text x="1171.5" y="209.9" font-size="9.8" fill="#fff" textLength="32" lengthAdjust="spacingAndGlyphs">1.26199</text>
<rect x="1167" y="258.5" width="41" height="11" fill="#0000ff"/>
<text x="1171.5" y="267.5" font-size="9.8" fill="#fff" textLength="32" lengthAdjust="spacingAndGlyphs">1.24995</text>
<rect x="1167" y="315.1" width="41" height="11" fill="#0000ff"/>
<text x="1171.5" y="324.1" font-size="9.8" fill="#fff" textLength="32" lengthAdjust="spacingAndGlyphs">1.23810</text>
<text x="1169.5" y="387.8" font-size="9.8" fill="#000" textLength="37" lengthAdjust="spacingAndGlyphs">0.009345</text>
<text x="1169.5" y="413.3" font-size="9.8" fill="#000" textLength="19" lengthAdjust="spacingAndGlyphs">0.00</text>
<text x="1169.5" y="436.8" font-size="9.8" fill="#000" textLength="40" lengthAdjust="spacingAndGlyphs">-0.008902</text>
<rect x="1166" y="410" width="2" height="1" fill="#000"/>
<text x="1169.5" y="453.8" font-size="9.8" fill="#000" textLength="14.5" lengthAdjust="spacingAndGlyphs">100</text>
<text x="1169.5" y="467.8" font-size="9.8" fill="#000" textLength="9.5" lengthAdjust="spacingAndGlyphs">70</text>
<text x="1169.5" y="492.8" font-size="9.8" fill="#000" textLength="9.5" lengthAdjust="spacingAndGlyphs">30</text>
<text x="1169.5" y="505.8" font-size="9.8" fill="#000" textLength="5" lengthAdjust="spacingAndGlyphs">0</text>
<path d="M6 31.8 h7 l-3.5 4.4 z" fill="#000"/>
<text x="18.3" y="36.9" font-size="9.8" fill="#000" textLength="68" lengthAdjust="spacingAndGlyphs">USDCAD-,Daily</text>
<text x="93.5" y="36.9" font-size="9.8" fill="#000" textLength="140.5" lengthAdjust="spacingAndGlyphs">1.26452 1.26966 1.26092 1.26698</text>
<text x="7.6" y="389.8" font-size="9.6" fill="#000" textLength="28.5" lengthAdjust="spacingAndGlyphs">MACD</text>
<text x="36.6" y="389.8" font-size="9.6" fill="#000" textLength="124.3" lengthAdjust="spacingAndGlyphs">(12,26,9) -0.002377 -0.000875</text>
<text x="7.4" y="456.1" font-size="9.8" fill="#000" textLength="67" lengthAdjust="spacingAndGlyphs">RSI(14) 44.2086</text>
<g shape-rendering="crispEdges">
<rect x="3" y="510" width="1" height="3" fill="#000"/>
<rect x="67" y="510" width="1" height="3" fill="#000"/>
<rect x="131" y="510" width="1" height="3" fill="#000"/>
<rect x="195" y="510" width="1" height="3" fill="#000"/>
<rect x="259" y="510" width="1" height="3" fill="#000"/>
<rect x="323" y="510" width="1" height="3" fill="#000"/>
<rect x="387" y="510" width="1" height="3" fill="#000"/>
<rect x="451" y="510" width="1" height="3" fill="#000"/>
<rect x="515" y="510" width="1" height="3" fill="#000"/>
<rect x="579" y="510" width="1" height="3" fill="#000"/>
<rect x="643" y="510" width="1" height="3" fill="#000"/>
<rect x="707" y="510" width="1" height="3" fill="#000"/>
<rect x="771" y="510" width="1" height="3" fill="#000"/>
<rect x="835" y="510" width="1" height="3" fill="#000"/>
<rect x="899" y="510" width="1" height="3" fill="#000"/>
</g>
<text x="2.3" y="522.3" font-size="9.8" fill="#000" textLength="51.3" lengthAdjust="spacingAndGlyphs">30 Aug 2021</text>
<text x="66.3" y="522.3" font-size="9.8" fill="#000" textLength="46.3" lengthAdjust="spacingAndGlyphs">8 Sep 2021</text>
<text x="130.3" y="522.3" font-size="9.8" fill="#000" textLength="51.3" lengthAdjust="spacingAndGlyphs">17 Sep 2021</text>
<text x="194.3" y="522.3" font-size="9.8" fill="#000" textLength="51.3" lengthAdjust="spacingAndGlyphs">27 Sep 2021</text>
<text x="258.3" y="522.3" font-size="9.8" fill="#000" textLength="46.3" lengthAdjust="spacingAndGlyphs">6 Oct 2021</text>
<text x="322.3" y="522.3" font-size="9.8" fill="#000" textLength="51.3" lengthAdjust="spacingAndGlyphs">15 Oct 2021</text>
<text x="386.3" y="522.3" font-size="9.8" fill="#000" textLength="51.3" lengthAdjust="spacingAndGlyphs">25 Oct 2021</text>
<text x="450.3" y="522.3" font-size="9.8" fill="#000" textLength="46.3" lengthAdjust="spacingAndGlyphs">3 Nov 2021</text>
<text x="514.3" y="522.3" font-size="9.8" fill="#000" textLength="51.3" lengthAdjust="spacingAndGlyphs">12 Nov 2021</text>
<text x="578.3" y="522.3" font-size="9.8" fill="#000" textLength="51.3" lengthAdjust="spacingAndGlyphs">22 Nov 2021</text>
<text x="642.3" y="522.3" font-size="9.8" fill="#000" textLength="46.3" lengthAdjust="spacingAndGlyphs">1 Dec 2021</text>
<text x="706.3" y="522.3" font-size="9.8" fill="#000" textLength="51.3" lengthAdjust="spacingAndGlyphs">10 Dec 2021</text>
<text x="770.3" y="522.3" font-size="9.8" fill="#000" textLength="51.3" lengthAdjust="spacingAndGlyphs">20 Dec 2021</text>
<text x="834.3" y="522.3" font-size="9.8" fill="#000" textLength="51.3" lengthAdjust="spacingAndGlyphs">29 Dec 2021</text>
<text x="898.3" y="522.3" font-size="9.8" fill="#000" textLength="45" lengthAdjust="spacingAndGlyphs">7 Jan 2022</text>
<g id="tabs">
<rect x="0" y="530.3" width="1208" height="1.7" fill="#dcdcdc"/>
<rect x="0" y="532" width="1208" height="24" fill="#f0f0f0"/>
<rect x="0" y="531.7" width="1208" height="1.5" fill="#1a1a1a"/>
<rect x="0" y="552" width="1208" height="1" fill="#fcfcfc"/>
<text x="15" y="547.3" font-size="13" fill="#6e6e6e" textLength="78" lengthAdjust="spacingAndGlyphs">USDX,Weekly</text>
<text x="115.2" y="547.3" font-size="13" fill="#6e6e6e" textLength="85" lengthAdjust="spacingAndGlyphs">EURUSD-,Daily</text>
<text x="222" y="547.3" font-size="13" fill="#6e6e6e" textLength="87" lengthAdjust="spacingAndGlyphs">AUDUSD-,Daily</text>
<text x="331.5" y="547.3" font-size="13" fill="#6e6e6e" textLength="73" lengthAdjust="spacingAndGlyphs">USDCHF-,H4</text>
<rect x="416" y="532" width="109" height="19" fill="#000"/>
<rect x="417.3" y="530" width="105.7" height="19.5" fill="#fff"/>
<text x="427" y="547.3" font-size="13" fill="#000" textLength="86.5" lengthAdjust="spacingAndGlyphs">USDCAD-,Daily</text>
<text x="536.5" y="547.3" font-size="13" fill="#6e6e6e" textLength="88" lengthAdjust="spacingAndGlyphs">USDCNH-,Daily</text>
<text x="647" y="547.3" font-size="13" fill="#6e6e6e" textLength="74" lengthAdjust="spacingAndGlyphs">XAUUSD-,H1</text>
<text x="743.5" y="547.3" font-size="13" fill="#6e6e6e" textLength="69" lengthAdjust="spacingAndGlyphs">UKOil-,Daily</text>
<text x="835.5" y="547.3" font-size="13" fill="#6e6e6e" textLength="65" lengthAdjust="spacingAndGlyphs">DJ30-,Daily</text>
<text x="923.5" y="547.3" font-size="13" fill="#6e6e6e" textLength="61" lengthAdjust="spacingAndGlyphs">UK100-,H1</text>
<rect x="104" y="535" width="1" height="15" fill="#505050"/>
<rect x="212" y="535" width="1" height="15" fill="#505050"/>
<rect x="320" y="535" width="1" height="15" fill="#505050"/>
<rect x="636" y="535" width="1" height="15" fill="#505050"/>
<rect x="732" y="535" width="1" height="15" fill="#505050"/>
<rect x="823" y="535" width="1" height="15" fill="#505050"/>
<rect x="910" y="535" width="1" height="15" fill="#505050"/>
<rect x="996" y="535" width="1" height="15" fill="#505050"/>
<path d="M1184 538.2 L1180.7 541 L1184 543.8z" fill="#959595"/><path d="M1200 538.2 L1203.3 541 L1200 543.8z" fill="#959595"/>
</g>
</svg></body></html>
